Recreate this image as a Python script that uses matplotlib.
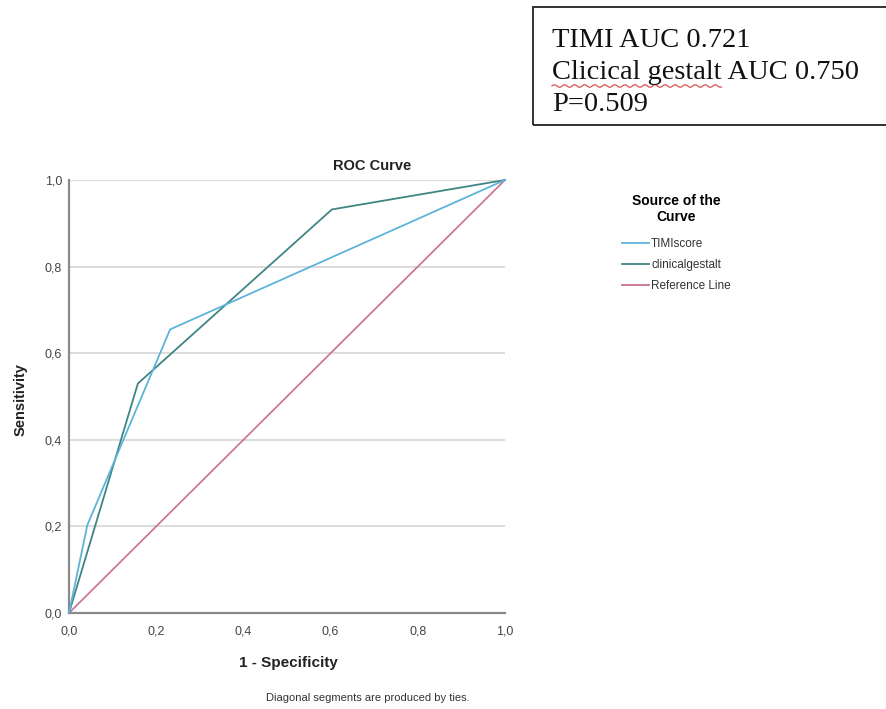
import numpy as np
import matplotlib
matplotlib.use("Agg")
import matplotlib.pyplot as plt
from matplotlib.lines import Line2D
from matplotlib.patches import Rectangle

# ROC points
timi_fpr = [0.0, 0.042, 0.232, 1.0]
timi_tpr = [0.0, 0.203, 0.655, 1.0]
clin_fpr = [0.0, 0.158, 0.603, 1.0]
clin_tpr = [0.0, 0.530, 0.932, 1.0]
ref_fpr = [0.0, 1.0]
ref_tpr = [0.0, 1.0]

series_names = ["TIMIscore", "clinicalgestalt", "Reference Line"]
series_colors = ["#5db4d9", "#3f8584", "#c9708f"]
tick_vals = [0.0, 0.2, 0.4, 0.6, 0.8, 1.0]
tick_labels = ["0,0", "0,2", "0,4", "0,6", "0,8", "1,0"]
box_lines = ["TIMI AUC 0.721", "Clicical gestalt", " AUC 0.750", "P=0.509"]

W, H = 886, 709
SANS = "Liberation Sans"
SERIF = "Liberation Serif"


def fx(x):
    return x / W


def fy(y):
    return 1 - y / H


fig = plt.figure(figsize=(W / 100, H / 100), dpi=100)
ax = fig.add_axes([fx(69), fy(613), fx(505) - fx(69), fy(180) - fy(613)])

ax.plot(ref_fpr, ref_tpr, color=series_colors[2], lw=1.2, clip_on=False, zorder=3)
ax.plot(clin_fpr, clin_tpr, color=series_colors[1], lw=1.3, clip_on=False, zorder=4)
ax.plot(timi_fpr, timi_tpr, color=series_colors[0], lw=1.3, clip_on=False, zorder=5)

ax.set_xlim(0, 1)
ax.set_ylim(0, 1)
ax.set_xticks(tick_vals)
ax.set_xticklabels(tick_labels)
ax.set_yticks(tick_vals)
ax.set_yticklabels(tick_labels)
ax.tick_params(length=0, labelsize=9, labelcolor="#444444")
ax.tick_params(axis="x", pad=9)
ax.tick_params(axis="y", pad=5)
for lab in ax.get_xticklabels() + ax.get_yticklabels():
    lab.set_family(SANS)
ax.yaxis.grid(True, color="#d6d6d6", lw=1.2)
ax.set_axisbelow(True)
for s in ["top", "right"]:
    ax.spines[s].set_visible(False)
for s in ["left", "bottom"]:
    ax.spines[s].set_color("#8a8a8a")
    ax.spines[s].set_linewidth(1.6)

# titles / labels
fig.text(fx(372), fy(166), "ROC Curve", ha="center", va="center",
         fontsize=10.5, fontweight="bold", family=SANS, color="#222222")
fig.text(fx(21), fy(400), "Sensitivity", ha="center", va="center", rotation=90,
         fontsize=10.5, fontweight="bold", family=SANS, color="#222222")
fig.text(fx(288), fy(663), "1 - Specificity", ha="center", va="center",
         fontsize=11, fontweight="bold", family=SANS, color="#222222")
fig.text(fx(368), fy(698), "Diagonal segments are produced by ties.", ha="center",
         va="center", fontsize=8, family=SANS, color="#333333")

# legend
handles = [Line2D([], [], color=c, lw=1.3) for c in series_colors]
leg = fig.legend(handles, series_names, loc="upper left",
                 bbox_to_anchor=(fx(614), fy(186)), frameon=False,
                 handlelength=2.3, handletextpad=0.15, labelspacing=0.75,
                 borderpad=0.2,
                 prop={"family": SANS, "size": 8.5},
                 title="Source of the\nCurve",
                 title_fontproperties={"family": SANS, "size": 10, "weight": "bold"})
leg.get_title().set_multialignment("center")
leg._legend_box.sep = 10
for t in leg.get_texts():
    t.set_color("#333333")

# text box in the corner
fig.patches.append(Rectangle((fx(533), fy(125)), fx(W + 5) - fx(533), fy(7) - fy(125),
                             transform=fig.transFigure, fill=False,
                             edgecolor="#222222", lw=1.3))
t1 = fig.text(fx(552), fy(47), box_lines[0], fontsize=20.5, family=SERIF,
              va="baseline", color="#111111")
t2 = fig.text(fx(552), fy(79), box_lines[1], fontsize=20.5, family=SERIF,
              va="baseline", color="#111111")
fig.canvas.draw()
r = fig.canvas.get_renderer()
bb = t2.get_window_extent(r)
fig.text(bb.x1 / W, fy(79), box_lines[2], fontsize=20.5, family=SERIF,
         va="baseline", color="#111111")
fig.text(fx(552), fy(111), box_lines[3], fontsize=20.5, family=SERIF,
         va="baseline", color="#111111")

# spell-check squiggle under the misspelled words
wx = np.linspace(bb.x0, bb.x1, 120)
wy = (H - 86) + 1.3 * np.sin((wx - bb.x0) / 1.6)
fig.add_artist(Line2D(wx / W, wy / H, transform=fig.transFigure,
                      color="#d9534f", lw=0.9))

fig.savefig("out.png", dpi=100)
